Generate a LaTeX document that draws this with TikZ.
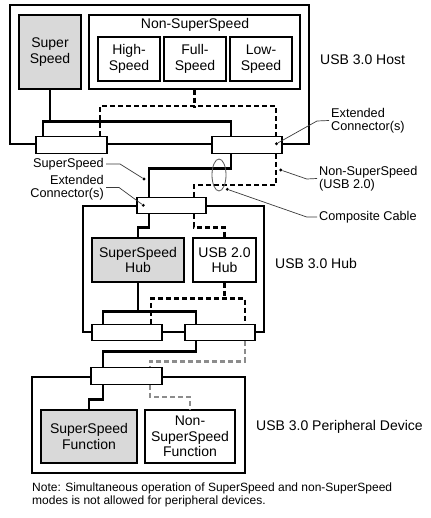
\documentclass[tikz,border=0pt]{standalone}
\usepackage{fontspec}
\setmainfont{Liberation Sans}
\usepackage{tikz}
\usetikzlibrary{positioning, shapes}
\definecolor{boxgray}{HTML}{D9D9D9}
\definecolor{wiregray}{HTML}{8C8C8C}
\definecolor{leadgray}{HTML}{3A3A3A}
\tikzset{Box/.style={draw, rectangle, line width=1.2pt, inner sep=0pt, align=center, font=\fontsize{14}{15.5}\selectfont}}
\tikzset{Fast/.style={fill=boxgray}}
\tikzset{Plug/.style={draw, rectangle, line width=1.2pt, fill=white, inner sep=0pt, minimum height=16.5pt}}
\tikzset{Bus/.style={draw, line width=2.8pt}}
\tikzset{Slow/.style={draw, line width=2.4pt, dash pattern=on 5pt off 3pt}}
\tikzset{Slow Dev/.style={Slow, wiregray}}
\tikzset{Name/.style={inner sep=0pt, anchor=west, font=\fontsize{14}{16}\selectfont}}
\tikzset{Call/.style={inner sep=2pt, font=\fontsize{12.7}{13}\selectfont}}
\tikzset{Lead/.style={draw, leadgray, line width=0.7pt}}
\tikzset{Dot/.style={circle, fill=black, inner sep=0pt, minimum size=3.2pt}}

\begin{document}
\begin{tikzpicture}[x=1pt, y=-1pt]
\useasboundingbox (0,0) rectangle (430,518);

\node[Box, minimum width=299pt, minimum height=139pt] (host) at (159.5,74.5) {};
\node[Box, minimum width=181pt, minimum height=126pt] (hub) at (173.5,269) {};
\node[Box, minimum width=213pt, minimum height=96pt] (dev) at (138.5,425) {};

\node[Box, Fast, minimum width=62pt, minimum height=74pt] (ss) at (50,52) {Super\\Speed};
\node[Box, minimum width=211pt, minimum height=74pt] (nss) at (194.5,52) {};
\node[font=\fontsize{14}{16}\selectfont, inner sep=0pt] (nsslbl) at (195,25) {Non-SuperSpeed};
\node[Box, minimum width=62pt, minimum height=44pt] (hs) at (129,59) {High-\\Speed};
\node[Box, minimum width=62pt, minimum height=44pt] (fs) at (195,59) {Full-\\Speed};
\node[Box, minimum width=62pt, minimum height=44pt] (ls) at (261,59) {Low-\\Speed};

\node[Box, Fast, minimum width=92pt, minimum height=44pt] (sshub) at (138,260) {SuperSpeed\\Hub};
\node[Box, minimum width=63pt, minimum height=44pt] (u2hub) at (224.5,260) {USB 2.0\\Hub};

\node[Box, Fast, minimum width=96pt, minimum height=53pt] (ssfn) at (89,436.5) {SuperSpeed\\Function};
\node[Box, minimum width=90pt, minimum height=53pt] (nssfn) at (190,436.5) {Non-\\SuperSpeed\\Function};

\node[Plug, minimum width=71pt] (hc1) at (71.5,145) {};
\node[Plug, minimum width=70pt] (hc2) at (247,145) {};
\node[Plug, minimum width=69pt] (uc) at (171.5,205.5) {};
\node[Plug, minimum width=70pt] (dc1) at (127,332.5) {};
\node[Plug, minimum width=70pt] (dc2) at (220,332.5) {};
\node[Plug, minimum width=71pt] (pc) at (126.5,376) {};

\draw[Bus] (ss.south) -- ++(0,33);
\draw[Bus] ([xshift=-28.5pt]hc1.north) -- ++(0,-15) -| ([xshift=-16pt]hc2.north);
\draw[Slow] (nss.south) -- ++(0,18);
\draw[Slow] ([xshift=28.5pt]hc1.north) -- ++(0,-30) -| ([xshift=29pt]hc2.north);

\draw[Bus] ([xshift=-16pt]hc2.south) -- ++(0,15) -| ([xshift=-22.5pt]uc.north);
\draw[Slow] ([xshift=29pt]hc2.south) -- ++(0,31) -| ([xshift=22.5pt]uc.north);

\draw[Bus] ([xshift=-22.5pt]uc.south) -- ++(0,13) -| (sshub.north);
\draw[Slow] ([xshift=22.5pt]uc.south) -- ++(0,13) -| (u2hub.north);

\draw[Bus] (sshub.south) -- ++(0,30);
\draw[Bus] ([xshift=-24pt]dc1.north) -- ++(0,-12) -| ([xshift=-24pt]dc2.north);
\draw[Slow] (u2hub.south) -- ++(0,17);
\draw[Slow] ([xshift=24pt]dc1.north) -- ++(0,-25) -| ([xshift=25pt]dc2.north);

\draw[Bus] ([xshift=-24pt]dc2.south) -- ++(0,10) -| ([xshift=-23.5pt]pc.north);
\draw[Slow Dev] ([xshift=25pt]dc2.south) -- ++(0,20) -| ([xshift=23.5pt]pc.north);

\draw[Bus] ([xshift=-23.5pt]pc.south) -- ++(0,15) -| (ssfn.north);
\draw[Slow Dev] ([xshift=23.5pt]pc.south) -- ++(0,12) -| (nssfn.north);

\node[draw=leadgray!85, ellipse, line width=0.8pt, minimum width=14pt, minimum height=32pt, inner sep=0pt] (cable) at (219,175) {};

\node[Dot] (d1) at (276.5,143.7) {};
\node[Dot] (d2) at (280.7,170) {};
\node[Dot] (d3) at (227.3,189.3) {};
\node[Dot] (d4) at (144,179) {};
\node[Dot] (d5) at (143.3,205.3) {};

\node[Call, anchor=west, align=left] (ext1) at (329,120.5) {Extended\\Connector(s)};
\node[Call, anchor=west, align=left] (nss2) at (317,178.5) {Non-SuperSpeed\\(USB 2.0)};
\node[Call, anchor=west, align=left] (cab) at (317,217) {Composite Cable};
\node[Call, anchor=east, align=right] (sslbl) at (106,164) {SuperSpeed};
\node[Call, anchor=east, align=right] (ext2) at (106,187.5) {Extended\\Connector(s)};

\draw[Lead] (d1) -- (317,121) -- (ext1.west);
\draw[Lead] (d2) -- (306.7,179) -- (nss2.west);
\draw[Lead] (d3) -- (306.7,217) -- (cab.west);
\draw[Lead] (sslbl.east) -- (120,164) -- (d4);
\draw[Lead] (ext2.east) -- (119,187.5) -- (d5);

\node[Name] (hostlbl) at (320,60) {USB 3.0 Host};
\node[Name] (hublbl) at (275,263) {USB 3.0 Hub};
\node[Name] (devlbl) at (256,427) {USB 3.0 Peripheral Device};

\node[inner sep=2pt, anchor=west, align=left, font=\fontsize{12}{13}\selectfont] (note) at (30,494.5) {Note: Simultaneous operation of SuperSpeed and non-SuperSpeed\\modes is not allowed for peripheral devices.};
\end{tikzpicture}
\end{document}
